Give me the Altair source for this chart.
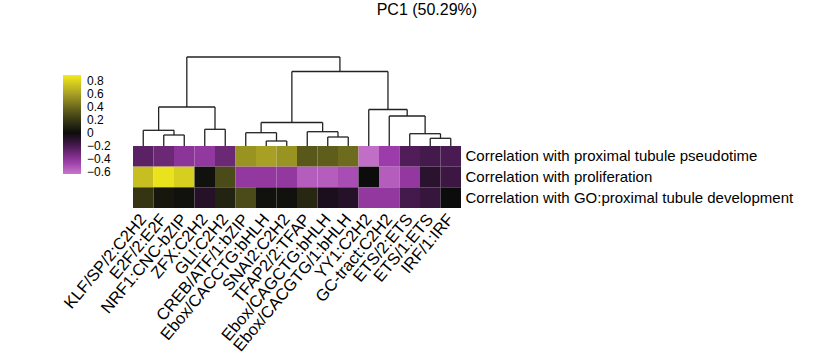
import json
import altair as alt
import pandas as pd

# ---------------- data ----------------
motifs = ["KLF/SP/2:C2H2", "E2F/2:E2F", "NRF1:CNC-bZIP", "ZFX:C2H2", "GLI:C2H2",
          "CREB/ATF/1:bZIP", "Ebox/CACCTG:bHLH", "SNAI2:C2H2", "TFAP2/2:TFAP",
          "Ebox/CAGCTG:bHLH", "Ebox/CACGTG/1:bHLH", "YY1:C2H2", "GC-tract:C2H2",
          "ETS/2:ETS", "ETS/1:ETS", "IRF/1:IRF"]
rows = ["Correlation with proximal tubule pseudotime",
        "Correlation with proliferation",
        "Correlation with GO:proximal tubule development"]
pseudotime = [-0.25, -0.30, -0.40, -0.42, -0.30, 0.55, 0.60, 0.55, 0.33, 0.35, 0.40,
              -0.60, -0.45, -0.22, -0.18, -0.20]
proliferation = [0.72, 0.85, 0.78, 0.02, 0.28, -0.42, -0.42, -0.42, -0.55, -0.55, -0.50,
                 0.00, -0.55, -0.42, -0.10, -0.15]
go_development = [0.18, 0.05, 0.02, -0.08, 0.10, 0.28, 0.02, 0.02, 0.12, -0.05, -0.08,
                  -0.42, -0.42, -0.18, -0.14, 0.00]
# hierarchical clustering of the columns: (left child, right child, height)
# leaves are 0..15, merged clusters are numbered 16, 17, ...
merges = [(1, 2, 11.0), (0, 16, 15.7), (3, 4, 16.7), (17, 18, 39.0),
          (6, 7, 5.0), (5, 20, 13.3), (9, 10, 9.0), (8, 22, 14.3), (21, 23, 23.5),
          (14, 15, 7.7), (13, 25, 12.3), (12, 26, 30.0), (11, 27, 36.5),
          (24, 28, 74.5), (19, 29, 89.0)]
legend_values = [0.8, 0.6, 0.4, 0.2, 0.0, -0.2, -0.4, -0.6]

# ---------------- tables ----------------
heat = pd.DataFrame(
    [{"motif": m, "row": r, "value": v}
     for r, vals in zip(rows, [pseudotime, proliferation, go_development])
     for m, v in zip(motifs, vals)]
)

node_x = {i: float(i) for i in range(len(motifs))}
node_h = {i: 0.0 for i in range(len(motifs))}
segs = []
for k, (a, b, h) in enumerate(merges):
    nid = len(motifs) + k
    for c in (a, b):
        segs.append({"x": node_x[c], "x2": node_x[c], "y": node_h[c], "y2": h})
    segs.append({"x": node_x[a], "x2": node_x[b], "y": h, "y2": h})
    node_x[nid] = (node_x[a] + node_x[b]) / 2
    node_h[nid] = h
dend = pd.DataFrame(segs)

FONT = "Liberation Sans"
color_scale = alt.Scale(
    domain=[-0.63, -0.45, -0.2, 0.0, 0.3, 0.6, 0.89],
    range=["#c878cc", "#9c3caa", "#4a1a52", "#0c0c0c", "#50501a", "#a8a024", "#f4ec1c"],
    interpolate="rgb",
)

heatmap = alt.Chart(heat).mark_rect().encode(
    x=alt.X("motif:N", sort=motifs,
            scale=alt.Scale(paddingInner=0, paddingOuter=0),
            axis=alt.Axis(title=None, labelAngle=310, labelFontSize=16.5, labelFont=FONT,
                          labelColor="black", ticks=False, domain=False, labelPadding=8,
                          labelAlign="right", labelBaseline="middle")),
    y=alt.Y("row:N", sort=rows,
            scale=alt.Scale(paddingInner=0, paddingOuter=0, range=[89, 151]),
            axis=alt.Axis(title=None, orient="right", labelFontSize=15, labelFont=FONT,
                          labelColor="black", ticks=False, domain=False, labelPadding=4,
                          labelLimit=500)),
    color=alt.Color("value:Q", scale=color_scale,
                    legend=alt.Legend(title=None, orient="none", legendX=-70, legendY=18,
                                      gradientLength=99, gradientThickness=18,
                                      gradientStrokeWidth=0, values=legend_values,
                                      labelFontSize=12, labelFont=FONT, labelColor="black",
                                      labelOffset=6,
                                      labelExpr="datum.value == 0 ? '0' : format(datum.value, '.1f')")),
)

dendro = alt.Chart(dend).mark_rule(color="#222222", strokeWidth=1.3).encode(
    x=alt.X("x:Q", scale=alt.Scale(domain=[-0.5, 15.5], nice=False, zero=False), axis=None),
    x2="x2",
    y=alt.Y("y:Q", scale=alt.Scale(domain=[0, 89], range=[89, 0], nice=False), axis=None),
    y2="y2",
)

chart = alt.layer(heatmap, dendro).resolve_scale(x="independent", y="independent").properties(
    width=328, height=151,
    title=alt.TitleParams("PC1 (50.29%)", fontSize=16, fontWeight="normal", font=FONT,
                          anchor="middle", frame="bounds", offset=38, color="black"),
    padding={"left": 61, "top": 2, "right": 5, "bottom": 5},
).configure_view(stroke=None)

chart.save("out.html", embed_options={"renderer": "svg", "actions": False})
